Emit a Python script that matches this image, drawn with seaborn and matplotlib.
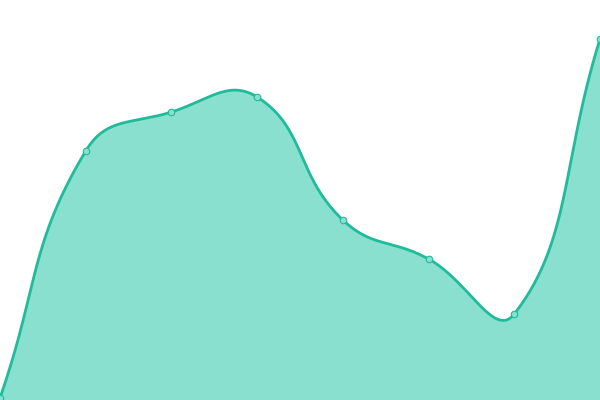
import numpy as np
import matplotlib
matplotlib.use("Agg")
import matplotlib.pyplot as plt
import seaborn as sns
import pandas as pd

categories = ["A", "B", "C", "D", "E", "F", "G", "H"]
values = [2, 249, 288, 303, 180, 141, 86, 361]

LINE = "#1fbb9a"
FILL = "#89e0cf"
MARK = "#89e0cf"

sns.set_theme(style="white")

fig = plt.figure(figsize=(6, 4), dpi=100)
ax = fig.add_axes([0, 0, 1, 1])

x = np.arange(len(values), dtype=float)
y = np.array(values, dtype=float)

# ECharts-like smooth curve, computed in display-proportional units
sx = 600.0 / (len(values) - 1)
sy = 1.0
smooth = 0.45
px = x * sx
py = y * sy
n = len(px)
cps = []
for i in range(n):
    pi = i - 1 if i > 0 else i
    ni = i + 1 if i < n - 1 else i
    vx = px[ni] - px[pi]
    vy = py[ni] - py[pi]
    l0 = np.hypot(px[i] - px[pi], py[i] - py[pi])
    l1 = np.hypot(px[ni] - px[i], py[ni] - py[i])
    r = l1 / (l0 + l1) if (l0 + l1) > 0 else 0.5
    cin = (px[i] - vx * smooth * (1 - r), py[i] - vy * smooth * (1 - r))
    cout = (px[i] + vx * smooth * r, py[i] + vy * smooth * r)
    cps.append((cin, cout))

cx, cy = [], []
t = np.linspace(0, 1, 60)
for i in range(n - 1):
    p0 = np.array([px[i], py[i]])
    p1 = np.array(cps[i][1])
    p2 = np.array(cps[i + 1][0])
    p3 = np.array([px[i + 1], py[i + 1]])
    seg = ((1 - t) ** 3)[:, None] * p0 + (3 * (1 - t) ** 2 * t)[:, None] * p1 \
        + (3 * (1 - t) * t ** 2)[:, None] * p2 + (t ** 3)[:, None] * p3
    cx.extend(seg[:, 0] / sx)
    cy.extend(seg[:, 1] / sy)
cx = np.array(cx)
cy = np.array(cy)

ax.fill_between(cx, 0, cy, color=FILL, linewidth=0, zorder=1)
ax.plot(cx, cy, color=LINE, linewidth=2.0, zorder=2, solid_capstyle="round")

df = pd.DataFrame({"x": x, "y": y, "cat": categories})
sns.scatterplot(data=df, x="x", y="y", ax=ax, s=22, color=MARK,
                edgecolor=LINE, linewidth=0.8, zorder=3, legend=False, clip_on=False)

ax.set_xlim(0, len(values) - 1)
ax.set_ylim(0, 400)
ax.axis("off")

fig.savefig("out.png", dpi=100, facecolor="white")
